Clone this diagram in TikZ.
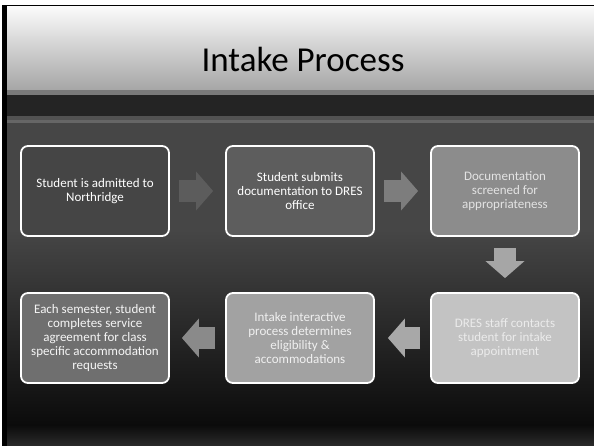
\documentclass[tikz,border=0pt]{standalone}
\usepackage{fontspec}
\setmainfont{Carlito}
\usetikzlibrary{arrows.meta}
\usepackage{xcolor}

\definecolor{slidebg}{HTML}{464646}
\definecolor{deep}{HTML}{0B0B0B}
\definecolor{boxA}{HTML}{454545}
\definecolor{boxB}{HTML}{5D5D5D}
\definecolor{boxC}{HTML}{8C8C8C}
\definecolor{boxD}{HTML}{C3C3C3}
\definecolor{boxE}{HTML}{A2A2A2}
\definecolor{boxF}{HTML}{6F6F6F}

\begin{document}
\begin{tikzpicture}[x=1pt,y=-1pt,node distance=205pt,
  stage/.style={draw=white,line width=1.8pt,rounded corners=7pt,minimum width=148pt,
    minimum height=90pt,align=center,font=\fontsize{13}{14.2}\selectfont},
  fat/.style={line width=22pt,-{Triangle[length=17pt,width=38pt]}}]
  \useasboundingbox (0,0) rectangle (594,446);
  \fill[white] (0,0) rectangle (594,446);
  \fill[black] (2,5) rectangle (594,446);
  \shade[top color=black!2,bottom color=black!35] (7,7) rectangle (594,90);
  \fill[black!52] (7,90) rectangle (594,95);
  \fill[black!86] (7,95) rectangle (594,116);
  \fill[black!68] (7,116) rectangle (594,120);
  \fill[black!60] (7,120) rectangle (594,123);
  \fill[slidebg] (7,123) rectangle (594,230);
  \shade[top color=slidebg,bottom color=deep] (7,230) rectangle (594,425);
  \shade[top color=deep,bottom color=black!83] (7,425) rectangle (594,446);

  \node[anchor=base,font=\fontsize{35}{40}\selectfont] (T) at (303,72) {Intake Process};

  \node[stage,fill=boxA,text=white]   (A) at (95,191) {Student is admitted to\\Northridge};
  \node[stage,fill=boxB,text=white]   (B) [right of=A] {Student submits\\documentation to DRES\\office};
  \node[stage,fill=boxC,text=black!11] (C) [right of=B] {Documentation\\screened for\\appropriateness};
  \node[stage,fill=boxD,text=black!8]  (D) [below of=C,node distance=147pt] {DRES staff contacts\\student for intake\\appointment};
  \node[stage,fill=boxE,text=black!6]  (E) [left of=D] {Intake interactive\\process determines\\eligibility \&\\accommodations};
  \node[stage,fill=boxF,text=black!4]  (F) [left of=E] {Each semester, student\\completes service\\agreement for class\\specific accommodation\\requests};

  \draw[fat,black!64,shorten <=9pt,shorten >=12pt]  (A) -- (B);
  \draw[fat,black!51,shorten <=9pt,shorten >=12pt]  (B) -- (C);
  \draw[fat,black!35,shorten <=11pt,shorten >=14pt] (C) -- (D);
  \draw[fat,black!34,shorten <=10pt,shorten >=13pt] (D) -- (E);
  \draw[fat,black!46,shorten <=10pt,shorten >=12pt] (E) -- (F);
\end{tikzpicture}
\end{document}
